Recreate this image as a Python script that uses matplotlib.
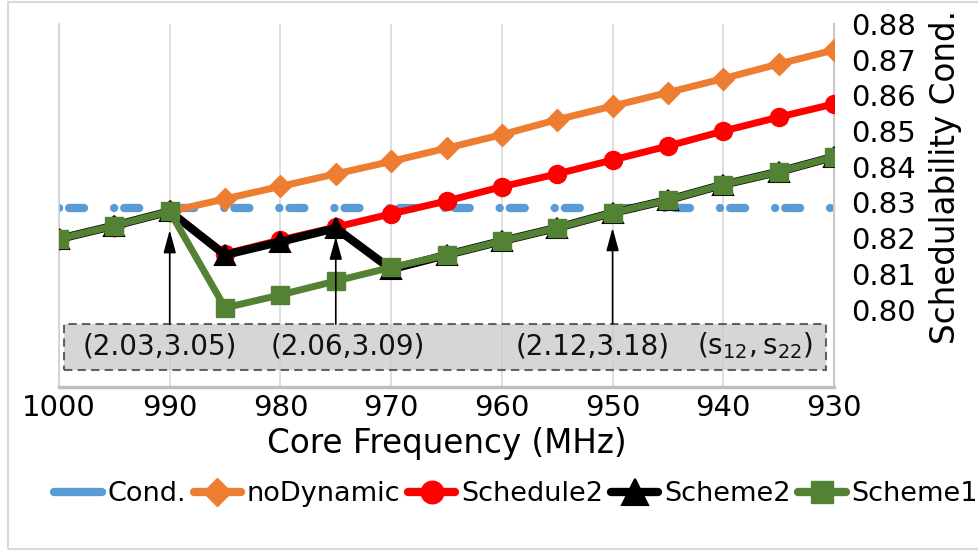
import matplotlib
matplotlib.use("Agg")
import matplotlib.pyplot as plt
from matplotlib.patches import Rectangle
from matplotlib.lines import Line2D

freq = [1000, 995, 990, 985, 980, 975, 970, 965, 960, 955, 950, 945, 940, 935, 930]
cond = [0.8285] * len(freq)
no_dynamic = [0.8198, 0.8235, 0.8275, 0.8310, 0.8345, 0.8380, 0.8415, 0.8452,
              0.8490, 0.8532, 0.8570, 0.8608, 0.8647, 0.8688, 0.8727]
schedule2 = [0.8198, 0.8235, 0.8275, 0.8156, 0.8195, 0.8231, 0.8268, 0.8304,
             0.8344, 0.8380, 0.8419, 0.8458, 0.8500, 0.8539, 0.8576]
scheme2 = [0.8198, 0.8235, 0.8275, 0.8153, 0.8190, 0.8228, 0.8113, 0.8153,
           0.8192, 0.8229, 0.8271, 0.8307, 0.8350, 0.8386, 0.8428]
scheme1 = [0.8198, 0.8235, 0.8275, 0.8005, 0.8041, 0.8080, 0.8118, 0.8153,
           0.8192, 0.8229, 0.8271, 0.8307, 0.8350, 0.8386, 0.8428]

x_ticks = [1000, 990, 980, 970, 960, 950, 940, 930]
y_ticks = [0.80, 0.81, 0.82, 0.83, 0.84, 0.85, 0.86, 0.87, 0.88]
y_grid = [0.81, 0.82, 0.83, 0.84, 0.85, 0.86, 0.87, 0.88]

annot_x = [990, 975, 950]
annot_tip = [0.8223, 0.8205, 0.8229]
annot_text = ["(2.03,3.05)", "(2.06,3.09)", "(2.12,3.18)"]

fig = plt.figure(figsize=(9.79, 5.51), dpi=100)
W, H = 979, 551
ax = fig.add_axes([59 / W, 1 - 387 / H, (834 - 59) / W, (387 - 24) / H])

# outer frame
fig.patches.append(Rectangle((8 / W, 1 - 549 / H), 1.2, (549 - 2) / H,
                             transform=fig.transFigure, fill=False,
                             edgecolor="#d9d9d9", linewidth=1.5))

ymin, ymax = 0.7783, 0.88
ax.set_xlim(1000, 930)
ax.set_ylim(ymin, ymax)

lw = 5
ax.plot(freq, cond, color="#5b9bd5", lw=6, dashes=(0.01, 1.2, 1.8, 3.6),
        dash_capstyle="round", solid_capstyle="round", label="Cond.", zorder=2)
ax.plot(freq, no_dynamic, color="#ed7d31", lw=lw, marker="D", ms=11,
        label="noDynamic", zorder=3)
ax.plot(freq, schedule2, color="#ff0000", lw=lw, marker="o", ms=13,
        label="Schedule2", zorder=4)
ax.plot(freq, scheme2, color="#000000", lw=lw + 1, marker="^", ms=15,
        mew=1.5, label="Scheme2", zorder=5)
ax.plot(freq, scheme1, color="#548235", lw=lw, marker="s", ms=12.5,
        label="Scheme1", zorder=6)

# axes styling
ax.yaxis.tick_right()
ax.set_yticks(y_ticks)
ax.set_yticklabels([f"{v:.2f}" for v in y_ticks], fontsize=21)
ax.set_yticks(y_grid, minor=True)
ax.set_xticks(x_ticks)
ax.set_xticklabels([str(v) for v in x_ticks], fontsize=21)
ax.tick_params(axis="both", which="both", length=0)
ax.tick_params(axis="y", pad=12)
ax.tick_params(axis="x", pad=5)
ax.grid(which="minor", axis="y", color="#d9d9d9", lw=1.2)
ax.grid(which="major", axis="x", color="#d9d9d9", lw=1.2)
ax.grid(which="major", axis="y", visible=False)
ax.set_axisbelow(True)
ax.spines["top"].set_visible(False)
ax.spines["left"].set_color("#d0d0d0")
ax.spines["right"].set_color("#c8c8c8")
ax.spines["bottom"].set_color("#bfbfbf")
ax.spines["left"].set_linewidth(1.2)
ax.spines["right"].set_linewidth(1.5)
ax.spines["bottom"].set_linewidth(2.5)

ax.set_xlabel("Core Frequency (MHz)", fontsize=23.5, labelpad=4)
fig.text(946 / W, 1 - 177 / H, "Schedulability Cond.", rotation=90,
         fontsize=23.5, ha="center", va="center")

# annotation box
def ax_x(px):
    return (px - 59) / (834 - 59)

def ax_y(py):
    return (387 - py) / (387 - 24)

ax.add_patch(Rectangle((ax_x(64), ax_y(370)), ax_x(826) - ax_x(64),
                       ax_y(324) - ax_y(370),
                       transform=ax.transAxes, facecolor=(0.80, 0.80, 0.81),
                       alpha=0.8, edgecolor="#404040", linestyle=(0, (4, 2.5)),
                       linewidth=1.5, zorder=7))
text_x = [160, 348, 593]
for tx, t in zip(text_x, annot_text):
    ax.text(ax_x(tx), ax_y(346), t, transform=ax.transAxes, fontsize=20,
            ha="center", va="center", color="#111111", zorder=8)
ax.text(ax_x(755), ax_y(346),
        r"$(\mathregular{s}_{\mathregular{12}},\mathregular{s}_{\mathregular{22}})$",
        transform=ax.transAxes, fontsize=20, ha="center", va="center",
        color="#111111", zorder=8)

box_top_val = ymax - (324 - 24) / (387 - 24) * (ymax - ymin)
for x, tip in zip(annot_x, annot_tip):
    ax.annotate("", xy=(x, tip), xycoords="data",
                xytext=(x, box_top_val), textcoords="data",
                arrowprops=dict(arrowstyle="-|>,head_length=1.4,head_width=0.38",
                                color="black", lw=1.2, shrinkA=0, shrinkB=0),
                zorder=9)

leg = fig.legend(loc="center", bbox_to_anchor=(516 / W, 1 - 494 / H), ncol=5,
                 fontsize=19.5, frameon=False, handlelength=1.75,
                 handletextpad=0.2, columnspacing=0.3, borderpad=0,
                 markerscale=1.25)
for h in leg.legend_handles:
    if isinstance(h, Line2D):
        h.set_linestyle("-")
        h.set_solid_capstyle("round")
        h.set_linewidth(6)

fig.savefig("out.png", dpi=100)
